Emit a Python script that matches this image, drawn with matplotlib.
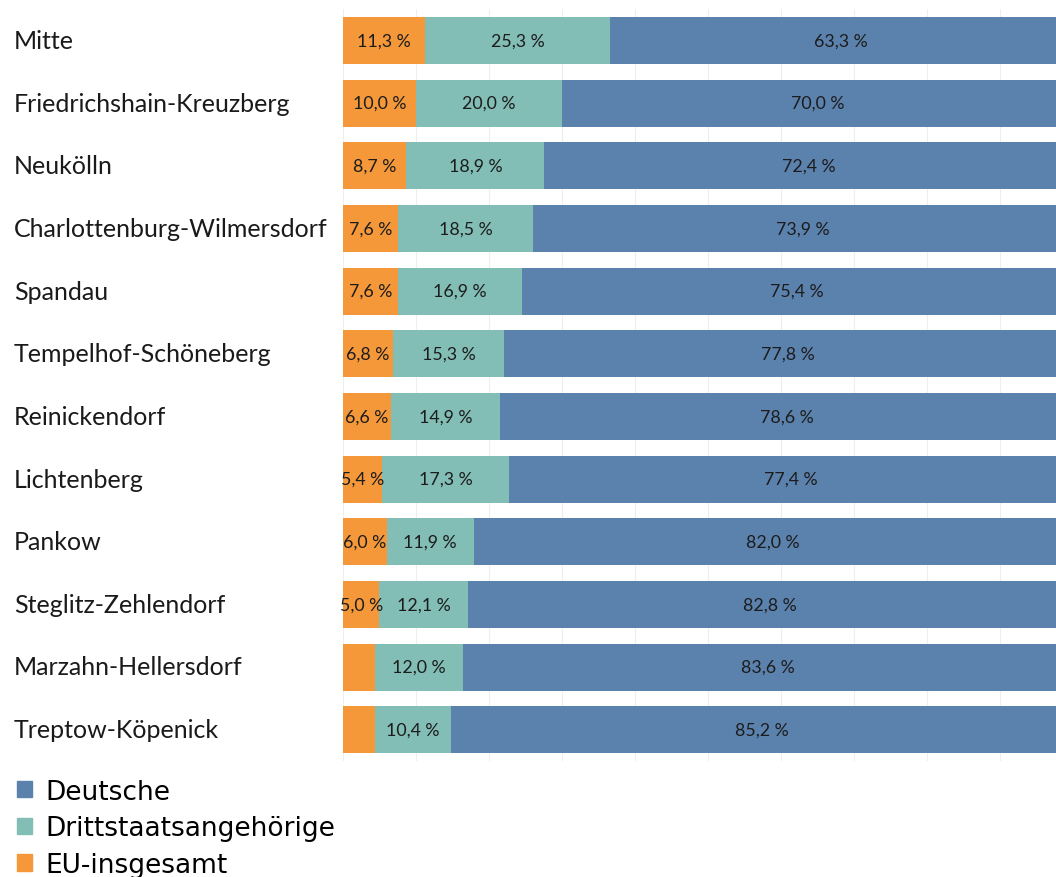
import matplotlib
matplotlib.use("Agg")
import matplotlib.pyplot as plt
import matplotlib.transforms as mtransforms
from matplotlib.patches import Patch

# Bezirke von oben nach unten
bezirke = ["Mitte", "Friedrichshain-Kreuzberg", "Neukölln", "Charlottenburg-Wilmersdorf",
           "Spandau", "Tempelhof-Schöneberg", "Reinickendorf", "Lichtenberg",
           "Pankow", "Steglitz-Zehlendorf", "Marzahn-Hellersdorf", "Treptow-Köpenick"]
eu = [11.3, 10.0, 8.7, 7.6, 7.6, 6.8, 6.6, 5.4, 6.0, 5.0, 4.4, 4.4]
dritt = [25.3, 20.0, 18.9, 18.5, 16.9, 15.3, 14.9, 17.3, 11.9, 12.1, 12.0, 10.4]
deutsche = [63.3, 70.0, 72.4, 73.9, 75.4, 77.8, 78.6, 77.4, 82.0, 82.8, 83.6, 85.2]

c_eu = "#F4983A"
c_dritt = "#82BDB6"
c_de = "#5B81AD"

fig = plt.figure(figsize=(10.56, 8.78), dpi=100)
ax = fig.add_axes([343/1056, 1 - 762/878, 1 - 343/1056, (762 - 10)/878])

y = list(range(len(bezirke)))
h = 0.75
left2 = [a + b for a, b in zip(eu, dritt)]
ax.barh(y, eu, height=h, color=c_eu, zorder=2)
ax.barh(y, dritt, left=eu, height=h, color=c_dritt, zorder=2)
ax.barh(y, deutsche, left=left2, height=h, color=c_de, zorder=2)

def fmt(v):
    return ("%.1f" % v).replace(".", ",") + " %"

lab_font = dict(family="Lato", fontsize=12.8, color="#1c1c1c", ha="center", va="center", zorder=3)
for i in y:
    if eu[i] >= 5:
        ax.text(eu[i] / 2, i, fmt(eu[i]), **lab_font)
    ax.text(eu[i] + dritt[i] / 2, i, fmt(dritt[i]), **lab_font)
    ax.text(left2[i] + deutsche[i] / 2, i, fmt(deutsche[i]), **lab_font)

ax.set_xlim(0, 97.7)
ax.set_ylim(len(bezirke) - 0.5, -0.5)
ax.set_xticks(range(0, 100, 10))
ax.grid(axis="x", color="#eeeeee", linewidth=0.8, zorder=0)
ax.tick_params(axis="x", length=0, labelbottom=False)
ax.tick_params(axis="y", length=0, labelleft=False)
for s in ax.spines.values():
    s.set_visible(False)

trans = mtransforms.blended_transform_factory(fig.transFigure, ax.transData)
for i, name in enumerate(bezirke):
    ax.text(14/1056, i, name, transform=trans, family="Lato", fontsize=18,
            color="#1a1a1a", ha="left", va="center")

handles = [Patch(color=c_de, label="Deutsche"),
           Patch(color=c_dritt, label="Drittstaatsangehörige"),
           Patch(color=c_eu, label="EU-insgesamt")]
fig.legend(handles=handles, loc="upper left", bbox_to_anchor=(6/1056, 1 - 769/878),
           frameon=False, fontsize=19, handlelength=0.58, handleheight=0.58,
           handletextpad=0.5, labelspacing=0.4, borderaxespad=0.2, borderpad=0.2)

fig.savefig("out.png", dpi=100)
